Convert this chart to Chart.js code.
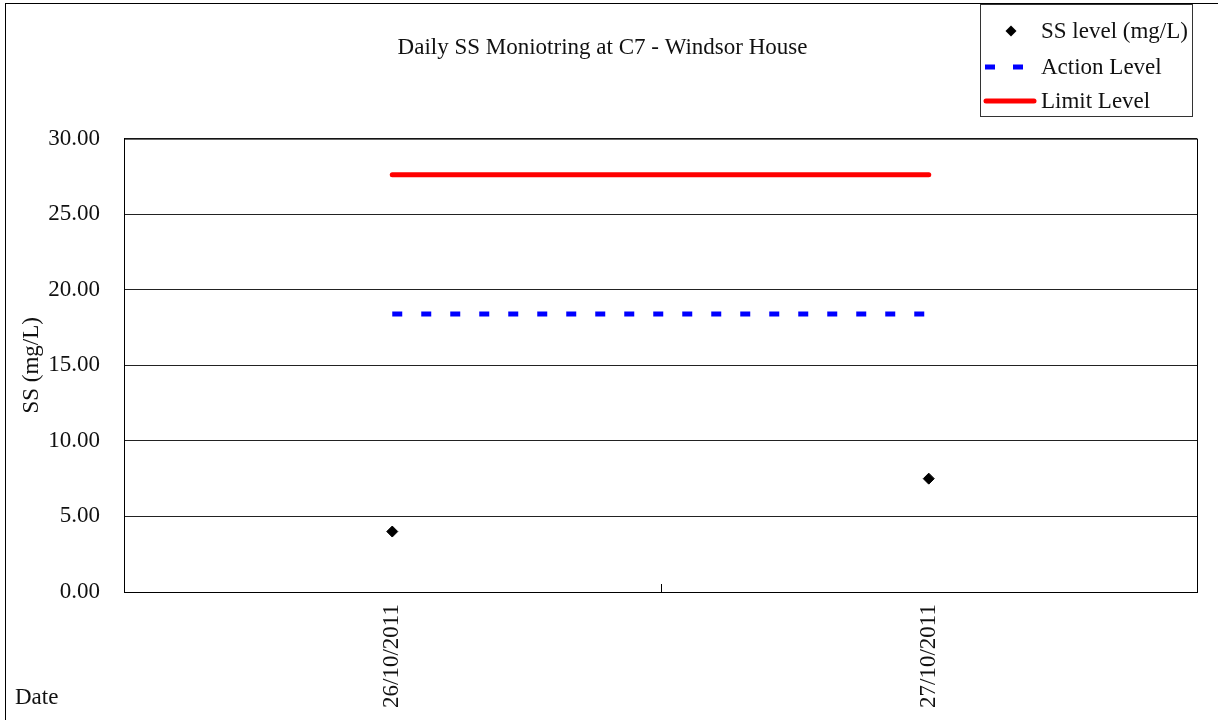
<!DOCTYPE html>
<html>
<head>
  <meta charset="UTF-8" />
  <title>Daily SS Monitoring at C7</title>
  <script src="https://cdn.jsdelivr.net/npm/chart.js"></script>
  <style>
    body { margin: 0; background: #fff; }
    #wrap { width: 1218px; height: 720px; }
  </style>
</head>
<body>
  <div id="wrap"><canvas id="ssChart" width="1218" height="720"></canvas></div>

  <script>
    // values
    const dates = ['26/10/2011', '27/10/2011'];
    const ssLevel = [4.0, 7.5];
    const actionLevel = [18.4, 18.4];
    const limitLevel = [27.6, 27.6];
    const seriesNames = ['SS level (mg/L)', 'Action Level', 'Limit Level'];

    const FONT = '"Liberation Serif", "DejaVu Serif", serif';
    const SIZE = 23;

    // frame, plot border, inward middle tick, legend box and "Date" label
    const decorations = {
      id: 'decorations',
      afterDraw(chart) {
        const ctx = chart.ctx;
        const area = chart.chartArea;
        const x = chart.scales.x;
        ctx.save();

        ctx.strokeStyle = '#000';
        ctx.lineWidth = 1;
        ctx.strokeRect(5.5, 3.5, 1400, 900);
        ctx.strokeRect(area.left + 0.5, area.top + 0.5, area.right - area.left, area.bottom - area.top);

        // tick between the two categories, pointing up into the plot
        for (let i = 1; i < dates.length; i++) {
          const mid = Math.round((x.getPixelForValue(i - 1) + x.getPixelForValue(i)) / 2) + 0.5;
          ctx.beginPath();
          ctx.moveTo(mid, area.bottom - 8);
          ctx.lineTo(mid, area.bottom);
          ctx.stroke();
        }

        // legend
        ctx.fillStyle = '#fff';
        ctx.fillRect(980, 4, 212, 112);
        ctx.strokeStyle = '#333';
        ctx.strokeRect(980.5, 4.5, 212, 112);
        ctx.font = SIZE + 'px ' + FONT;
        ctx.textBaseline = 'middle';
        const rows = [31, 67, 101];
        chart.data.datasets.forEach((ds, i) => {
          const y = rows[i];
          if (i === 0) {
            ctx.fillStyle = '#000';
            ctx.beginPath();
            ctx.moveTo(1011, y - 5.5);
            ctx.lineTo(1016.5, y);
            ctx.lineTo(1011, y + 5.5);
            ctx.lineTo(1005.5, y);
            ctx.closePath();
            ctx.fill();
          } else if (i === 1) {
            ctx.fillStyle = ds.borderColor;
            ctx.fillRect(985, y - 2.5, 10, 5);
            ctx.fillRect(1013, y - 2.5, 10, 5);
          } else {
            ctx.strokeStyle = ds.borderColor;
            ctx.lineWidth = 5;
            ctx.lineCap = 'round';
            ctx.beginPath();
            ctx.moveTo(986, y);
            ctx.lineTo(1034, y);
            ctx.stroke();
          }
          ctx.fillStyle = '#111';
          ctx.textAlign = 'left';
          ctx.fillText(ds.label, 1041, y + 1);
        });

        ctx.textAlign = 'left';
        ctx.textBaseline = 'alphabetic';
        ctx.fillStyle = '#111';
        ctx.font = SIZE + 'px ' + FONT;
        ctx.fillText('Date', 15, 704);
        ctx.restore();
      }
    };

    const ctx = document.getElementById('ssChart').getContext('2d');
    new Chart(ctx, {
      type: 'line',
      data: {
        labels: dates,
        datasets: [
          {
            label: seriesNames[0],
            data: ssLevel,
            showLine: false,
            pointStyle: 'rectRot',
            pointRadius: 5.5,
            backgroundColor: '#000',
            borderColor: '#000',
            borderWidth: 1,
          },
          {
            label: seriesNames[1],
            data: actionLevel,
            borderColor: '#0000ff',
            borderWidth: 5,
            borderDash: [10, 19],
            pointRadius: 0,
            fill: false,
          },
          {
            label: seriesNames[2],
            data: limitLevel,
            borderColor: '#ff0000',
            borderWidth: 5,
            borderCapStyle: 'round',
            pointRadius: 0,
            fill: false,
          },
        ]
      },
      options: {
        responsive: false,
        animation: false,
        layout: { padding: { left: 8, right: 21, top: 0, bottom: 0 } },
        plugins: {
          legend: { display: false },
          tooltip: { enabled: false },
          title: {
            display: true,
            text: 'Daily SS Moniotring at C7 - Windsor House',
            color: '#111',
            font: { family: FONT, size: SIZE, weight: 'normal' },
            padding: { top: 34, bottom: 77 },
          },
        },
        scales: {
          x: {
            type: 'category',
            offset: true,
            grid: { display: false, drawTicks: false },
            border: { display: true, color: '#000', width: 1 },
            ticks: {
              color: '#111',
              font: { family: FONT, size: SIZE },
              minRotation: 90,
              maxRotation: 90,
              padding: 12,
            },
            afterFit(scale) { scale.height = 128; },
          },
          y: {
            min: 0,
            max: 30,
            grid: { color: '#222', lineWidth: 1, drawTicks: false },
            border: { display: true, color: '#000', width: 1 },
            ticks: {
              stepSize: 5,
              color: '#111',
              font: { family: FONT, size: SIZE },
              padding: 24,
              callback: (v) => Number(v).toFixed(2),
            },
            title: {
              display: true,
              text: 'SS (mg/L)',
              color: '#111',
              font: { family: FONT, size: SIZE },
              padding: { top: 10, bottom: 0 },
            },
            afterFit(scale) { scale.width = 116; },
          }
        }
      },
      plugins: [decorations]
    });
  </script>
</body>
</html>
